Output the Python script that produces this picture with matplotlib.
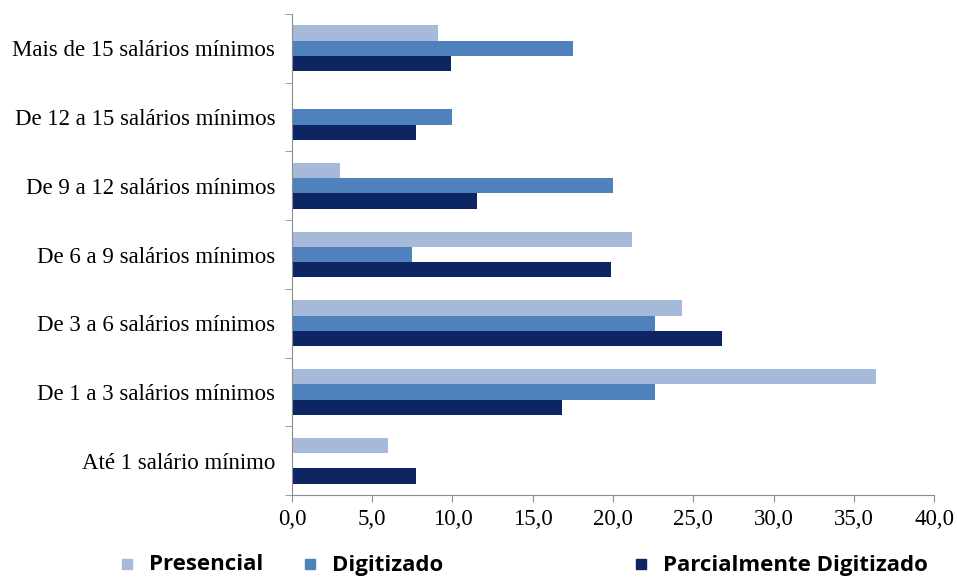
import numpy as np
import matplotlib.pyplot as plt
from matplotlib.patches import Rectangle

# Income brackets, bottom to top
categories = ["Até 1 salário mínimo", "De 1 a 3 salários mínimos", "De 3 a 6 salários mínimos",
              "De 6 a 9 salários mínimos", "De 9 a 12 salários mínimos",
              "De 12 a 15 salários mínimos", "Mais de 15 salários mínimos"]
series_names = ["Presencial", "Digitizado", "Parcialmente Digitizado"]
presencial = [6.0, 36.4, 24.3, 21.2, 3.0, 0.0, 9.1]
digitizado = [0.0, 22.6, 22.6, 7.5, 20.0, 10.0, 17.5]
parcial = [7.7, 16.8, 26.8, 19.9, 11.5, 7.7, 9.9]
xticks = [0, 5, 10, 15, 20, 25, 30, 35, 40]

colors = ["#A7B9D8", "#4F81BD", "#0D2562"]

fig = plt.figure(figsize=(9.57, 5.77), dpi=100)
ax = fig.add_axes([0.3051, 0.1421, 0.976 - 0.3051, 0.9757 - 0.1421])

y = np.arange(len(categories))
h = 0.222
for vals, off, c in zip([presencial, digitizado, parcial], [h, 0, -h], colors):
    ax.barh(y + off, vals, height=h, color=c, edgecolor="none")

ax.set_xlim(0, 40)
ax.set_ylim(-0.5, len(categories) - 0.5)
ax.set_xticks(xticks)
ax.set_xticklabels([f"{v:.1f}".replace(".", ",") for v in xticks],
                   family="Liberation Serif", fontsize=16.5)
ax.set_yticks(y)
ax.set_yticklabels(categories, family="Liberation Serif", fontsize=16.5)
ax.set_yticks(np.arange(-0.5, len(categories)), minor=True)
ax.tick_params(axis="y", which="major", length=0, pad=12)
ax.tick_params(axis="y", which="minor", length=5, color="#8C8C8C", direction="out")
ax.tick_params(axis="x", length=5, color="#8C8C8C", direction="out", pad=5)

for s in ["top", "right"]:
    ax.spines[s].set_visible(False)
for s in ["left", "bottom"]:
    ax.spines[s].set_color("#8C8C8C")

# Legend drawn as loose entries along the bottom
legend_x = [122, 305, 636]
for name, c, lx in zip(series_names, colors, legend_x):
    fig.patches.append(Rectangle((lx / 957, 1 - 569 / 577), 10 / 957, 10 / 577,
                                 transform=fig.transFigure, color=c))
    fig.text((lx + 27) / 957, 1 - 565 / 577, name, fontsize=16, fontweight="bold",
             family="Open Sans", va="center", ha="left")

fig.savefig("out.png", dpi=100)
